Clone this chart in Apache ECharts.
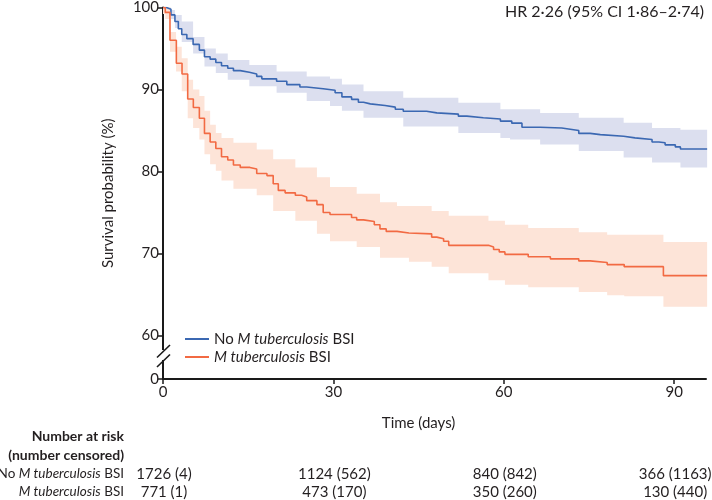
<!DOCTYPE html>
<html>
<head>
<meta charset="utf-8">
<script src="https://cdn.jsdelivr.net/npm/echarts@6/dist/echarts.min.js"></script>
<style>
html,body{margin:0;padding:0;background:#fff;}
#c{width:712px;height:500px;}
</style>
</head>
<body>
<div id="c"></div>
<script>
// ---- Data ----
const seriesNames = ['No M tuberculosis BSI', 'M tuberculosis BSI'];

// Kaplan-Meier step points (day, survival %)
const blueDays = [0,0.6,1.4,2.1,2.7,3.3,4.2,5.3,6.4,7.3,8.3,9.3,10.3,11.4,12.4,13.6,15.2,16.5,17.4,20.0,21.8,24.1,25.3,28.2,30.3,31.5,33.2,34.4,35.3,36.5,39.1,40.9,42.3,46.4,48.2,52.0,53.5,56.4,59.4,61.4,63.2,66.4,70.2,72.3,73.2,75.2,77.0,81.1,83.1,86.1,87.3,88.4,90.2,91.1,95.8];
const blueSurv = [100,99.8,99.1,98.3,97.4,96.7,96.2,95.5,94.8,94.0,93.7,93.3,92.9,92.6,92.3,92.1,91.9,91.6,91.3,91.0,90.6,90.3,90.1,89.9,89.6,89.1,88.8,88.45,88.25,88.05,87.85,87.6,87.35,87.15,87.0,86.75,86.55,86.4,86.15,85.9,85.4,85.3,85.1,85.0,84.65,84.5,84.3,84.1,83.9,83.6,83.5,83.25,83.0,82.75,82.75];

const redDays = [0,0.4,1.23,2.35,3.35,4.35,5.34,6.4,7.3,8.3,9.3,10.3,11.4,12.4,13.6,15.3,16.5,18.3,19.4,20.3,21.5,23.3,24.4,25.3,27.1,28.2,29.4,33.2,34.1,35.3,37.2,38.2,39.3,41.2,43.3,47.3,48.2,49.4,50.3,57.3,58.2,59.2,60.2,64.3,68.2,73.2,75.2,78.2,81.2,88.1,95.8];
const redSurv = [100,99.4,96.0,93.2,91.9,88.85,87.8,86.5,84.65,83.6,82.8,81.8,81.4,80.8,80.5,80.3,79.75,79.5,78.5,77.7,77.4,77.1,76.9,76.45,75.96,75.0,74.75,74.4,74.1,73.9,73.5,73.0,72.7,72.5,72.4,72.0,71.8,71.5,71.0,70.8,70.5,70.2,69.9,69.6,69.35,69.1,68.9,68.65,68.4,67.3,67.3];

// 95% confidence bands (day, lower, upper)
const blueCiDays = [0,1.4,2.1,3.3,5.3,7.3,9.3,11.4,15.2,20.0,25.3,29.4,31.5,35.3,42.3,52.0,59.4,61.1,66.4,73.2,81.1,86.1,91.1,95.8];
const blueCiLow  = [99.6,98.6,97.5,95.8,94.4,92.8,92.0,91.2,90.4,89.6,88.6,88.0,87.4,86.55,85.5,84.7,84.1,83.9,83.3,82.5,81.7,81.1,80.5,80.5];
const blueCiHigh = [100,99.7,99.1,98.3,96.4,95.0,94.4,93.6,93.0,92.2,91.6,91.3,90.6,89.8,89.0,88.4,87.6,87.6,87.15,86.55,85.95,85.3,85.1,85.1];

const redCiDays = [0,0.4,1.23,2.3,3.3,4.35,5.3,6.4,7.3,8.3,9.3,10.3,12.4,16.5,19.4,23.3,27.1,29.4,34.1,38.2,41.2,43.3,47.3,50.3,57.3,60.2,64.3,73.2,78.2,81.2,88.1,95.8];
const redCiLow  = [99.2,98.6,94.6,92.2,89.8,86.5,85.3,83.9,82.1,80.9,80.1,78.9,77.9,77.1,75.2,74.0,72.4,71.5,70.8,69.5,69.5,69.0,68.4,67.6,66.75,66.2,65.9,65.3,64.9,64.8,63.5,63.5];
const redCiHigh = [100,100,97.0,95.2,93.8,91.2,90.0,89.2,87.4,85.7,84.7,84.1,83.5,82.7,81.5,80.5,79.3,78.1,77.3,76.25,75.8,75.8,75.2,74.6,74.0,73.5,73.1,72.6,72.3,72.3,71.4,71.4];

// Number at risk table
const riskDays = [0, 30, 60, 90];
const noMtbAtRisk = [1726, 1124, 840, 366];
const noMtbCensored = [4, 562, 842, 1163];
const mtbAtRisk = [771, 473, 350, 130];
const mtbCensored = [1, 170, 260, 440];

const yTickLabels = [60, 70, 80, 90, 100];
const xTickLabels = [0, 30, 60, 90];
const hrText = 'HR 2·26 (95% CI 1·86–2·74)';

// ---- Chart ----
const FONT = 'Lato';
const FS = 15;
const BLUE = '#3b68b2';
const RED = '#f26a43';
const BLUE_BAND = '#dcdfef';
const RED_BAND = '#fde4d8';
const Y_BREAK = 54.7; // axis value where the (broken) 0 is drawn
const X_MAX = 95.6;

const zip = (a, b) => a.map((v, i) => [v, b[i]]);
const zip3 = (a, b, c) => a.map((v, i) => [v, b[i], c[i]]);

function bandRenderer(days, lo, hi, color) {
  return function (params, api) {
    if (params.dataIndex !== 0) return null;
    const top = [], bot = [];
    for (let i = 0; i < days.length; i++) {
      const tNext = i + 1 < days.length ? days[i + 1] : days[i];
      top.push(api.coord([days[i], hi[i]]));
      top.push(api.coord([tNext, hi[i]]));
      bot.push(api.coord([days[i], lo[i]]));
      bot.push(api.coord([tNext, lo[i]]));
    }
    return {
      type: 'polygon',
      shape: { points: top.concat(bot.reverse()) },
      style: { fill: color }
    };
  };
}

const chart = echarts.init(document.getElementById('c'), null, { renderer: 'canvas' });

const legendFmt = (name) => name.replace('M tuberculosis', '{i|M tuberculosis}');

chart.setOption({
  animation: false,
  textStyle: { fontFamily: FONT },
  grid: { left: 163, right: 6, top: 6, bottom: 121, containLabel: false },
  xAxis: {
    type: 'value', min: 0, max: X_MAX,
    axisLine: { onZero: false, lineStyle: { color: '#1a1a1a', width: 2 } },
    axisTick: { length: 5, lineStyle: { color: '#1a1a1a', width: 1.5 }, customValues: xTickLabels },
    axisLabel: { customValues: xTickLabels, color: '#231f20', fontSize: FS, fontFamily: FONT, margin: 6 },
    splitLine: { show: false }
  },
  yAxis: {
    type: 'value', min: Y_BREAK, max: 100,
    name: 'Survival probability (%)', nameLocation: 'middle', nameGap: 47,
    nameTextStyle: { color: '#231f20', fontSize: FS, fontFamily: FONT },
    axisLine: { show: true, lineStyle: { color: '#1a1a1a', width: 2 } },
    axisTick: { show: true, length: 5, lineStyle: { color: '#1a1a1a', width: 1.5 }, customValues: [Y_BREAK].concat(yTickLabels) },
    axisLabel: {
      customValues: [Y_BREAK].concat(yTickLabels), color: '#231f20', fontSize: FS, fontFamily: FONT, margin: 4,
      formatter: (v) => (Math.abs(v - Y_BREAK) < 0.01 ? '0' : String(v))
    },
    splitLine: { show: false }
  },
  legend: {
    orient: 'vertical', left: 185, top: 331, itemGap: 2, padding: 0,
    itemWidth: 24, itemHeight: 2, icon: 'rect',
    data: seriesNames,
    formatter: legendFmt,
    textStyle: {
      fontFamily: FONT, fontSize: FS, color: '#231f20', lineHeight: 16,
      rich: { i: { fontStyle: 'italic', fontFamily: FONT, fontSize: FS, color: '#231f20' } }
    }
  },
  series: [
    { type: 'custom', name: 'blueBand', silent: true, z: 1,
      renderItem: bandRenderer(blueCiDays, blueCiLow, blueCiHigh, BLUE_BAND),
      data: zip3(blueCiDays, blueCiLow, blueCiHigh), encode: { x: 0, y: [1, 2] } },
    { type: 'custom', name: 'redBand', silent: true, z: 1,
      renderItem: bandRenderer(redCiDays, redCiLow, redCiHigh, RED_BAND),
      data: zip3(redCiDays, redCiLow, redCiHigh), encode: { x: 0, y: [1, 2] } },
    { type: 'line', name: seriesNames[0], step: 'end', showSymbol: false, z: 3,
      color: BLUE, lineStyle: { color: BLUE, width: 1.6 }, data: zip(blueDays, blueSurv) },
    { type: 'line', name: seriesNames[1], step: 'end', showSymbol: false, z: 3,
      color: RED, lineStyle: { color: RED, width: 1.6 }, data: zip(redDays, redSurv) }
  ]
});

// ---- Annotations: HR text, axis title, risk table, axis break ----
function px(day) { return chart.convertToPixel({ xAxisIndex: 0 }, day); }
function py(v) { return chart.convertToPixel({ yAxisIndex: 0 }, v); }

const g = [];
function txt(x, y, text, align, bold, size) {
  const fs = size || FS;
  g.push({ type: 'text', x: x, y: y, z: 10,
    style: { text: text, x: 0, y: 0, align: align, verticalAlign: 'middle',
      font: (bold ? 'bold ' : '') + fs + 'px ' + FONT, fill: '#231f20',
      rich: { i: { fontStyle: 'italic', fontFamily: FONT, fontSize: fs, fill: '#231f20' } } } });
}
txt(704, 12, hrText, 'right', false, 16);
txt(px(45), 423, 'Time (days)', 'center', false);
txt(124, 436, 'Number at risk', 'right', true, 14);
txt(124, 455, '(number censored)', 'right', true, 14);
txt(124, 474, legendFmt(seriesNames[0]), 'right', false, 13.5);
txt(124, 492, legendFmt(seriesNames[1]), 'right', false, 13.5);
riskDays.forEach((d, i) => {
  txt(px(d) + 1, 474, noMtbAtRisk[i] + ' (' + noMtbCensored[i] + ')', 'center', false);
  txt(px(d) + 1, 492, mtbAtRisk[i] + ' (' + mtbCensored[i] + ')', 'center', false);
});

// axis break marks
const ax = px(0);
const yc = py(57.5);
g.push({ type: 'rect', z: 20, shape: { x: ax - 2, y: yc - 6, width: 4, height: 10 }, style: { fill: '#fff' } });
g.push({ type: 'line', z: 21, shape: { x1: ax - 6, y1: yc + 1.5, x2: ax + 7, y2: yc - 11 }, style: { stroke: '#1a1a1a', lineWidth: 1.6 } });
g.push({ type: 'line', z: 21, shape: { x1: ax - 6, y1: yc + 11, x2: ax + 7, y2: yc - 1.5 }, style: { stroke: '#1a1a1a', lineWidth: 1.6 } });

chart.setOption({ graphic: g });
</script>
</body>
</html>
